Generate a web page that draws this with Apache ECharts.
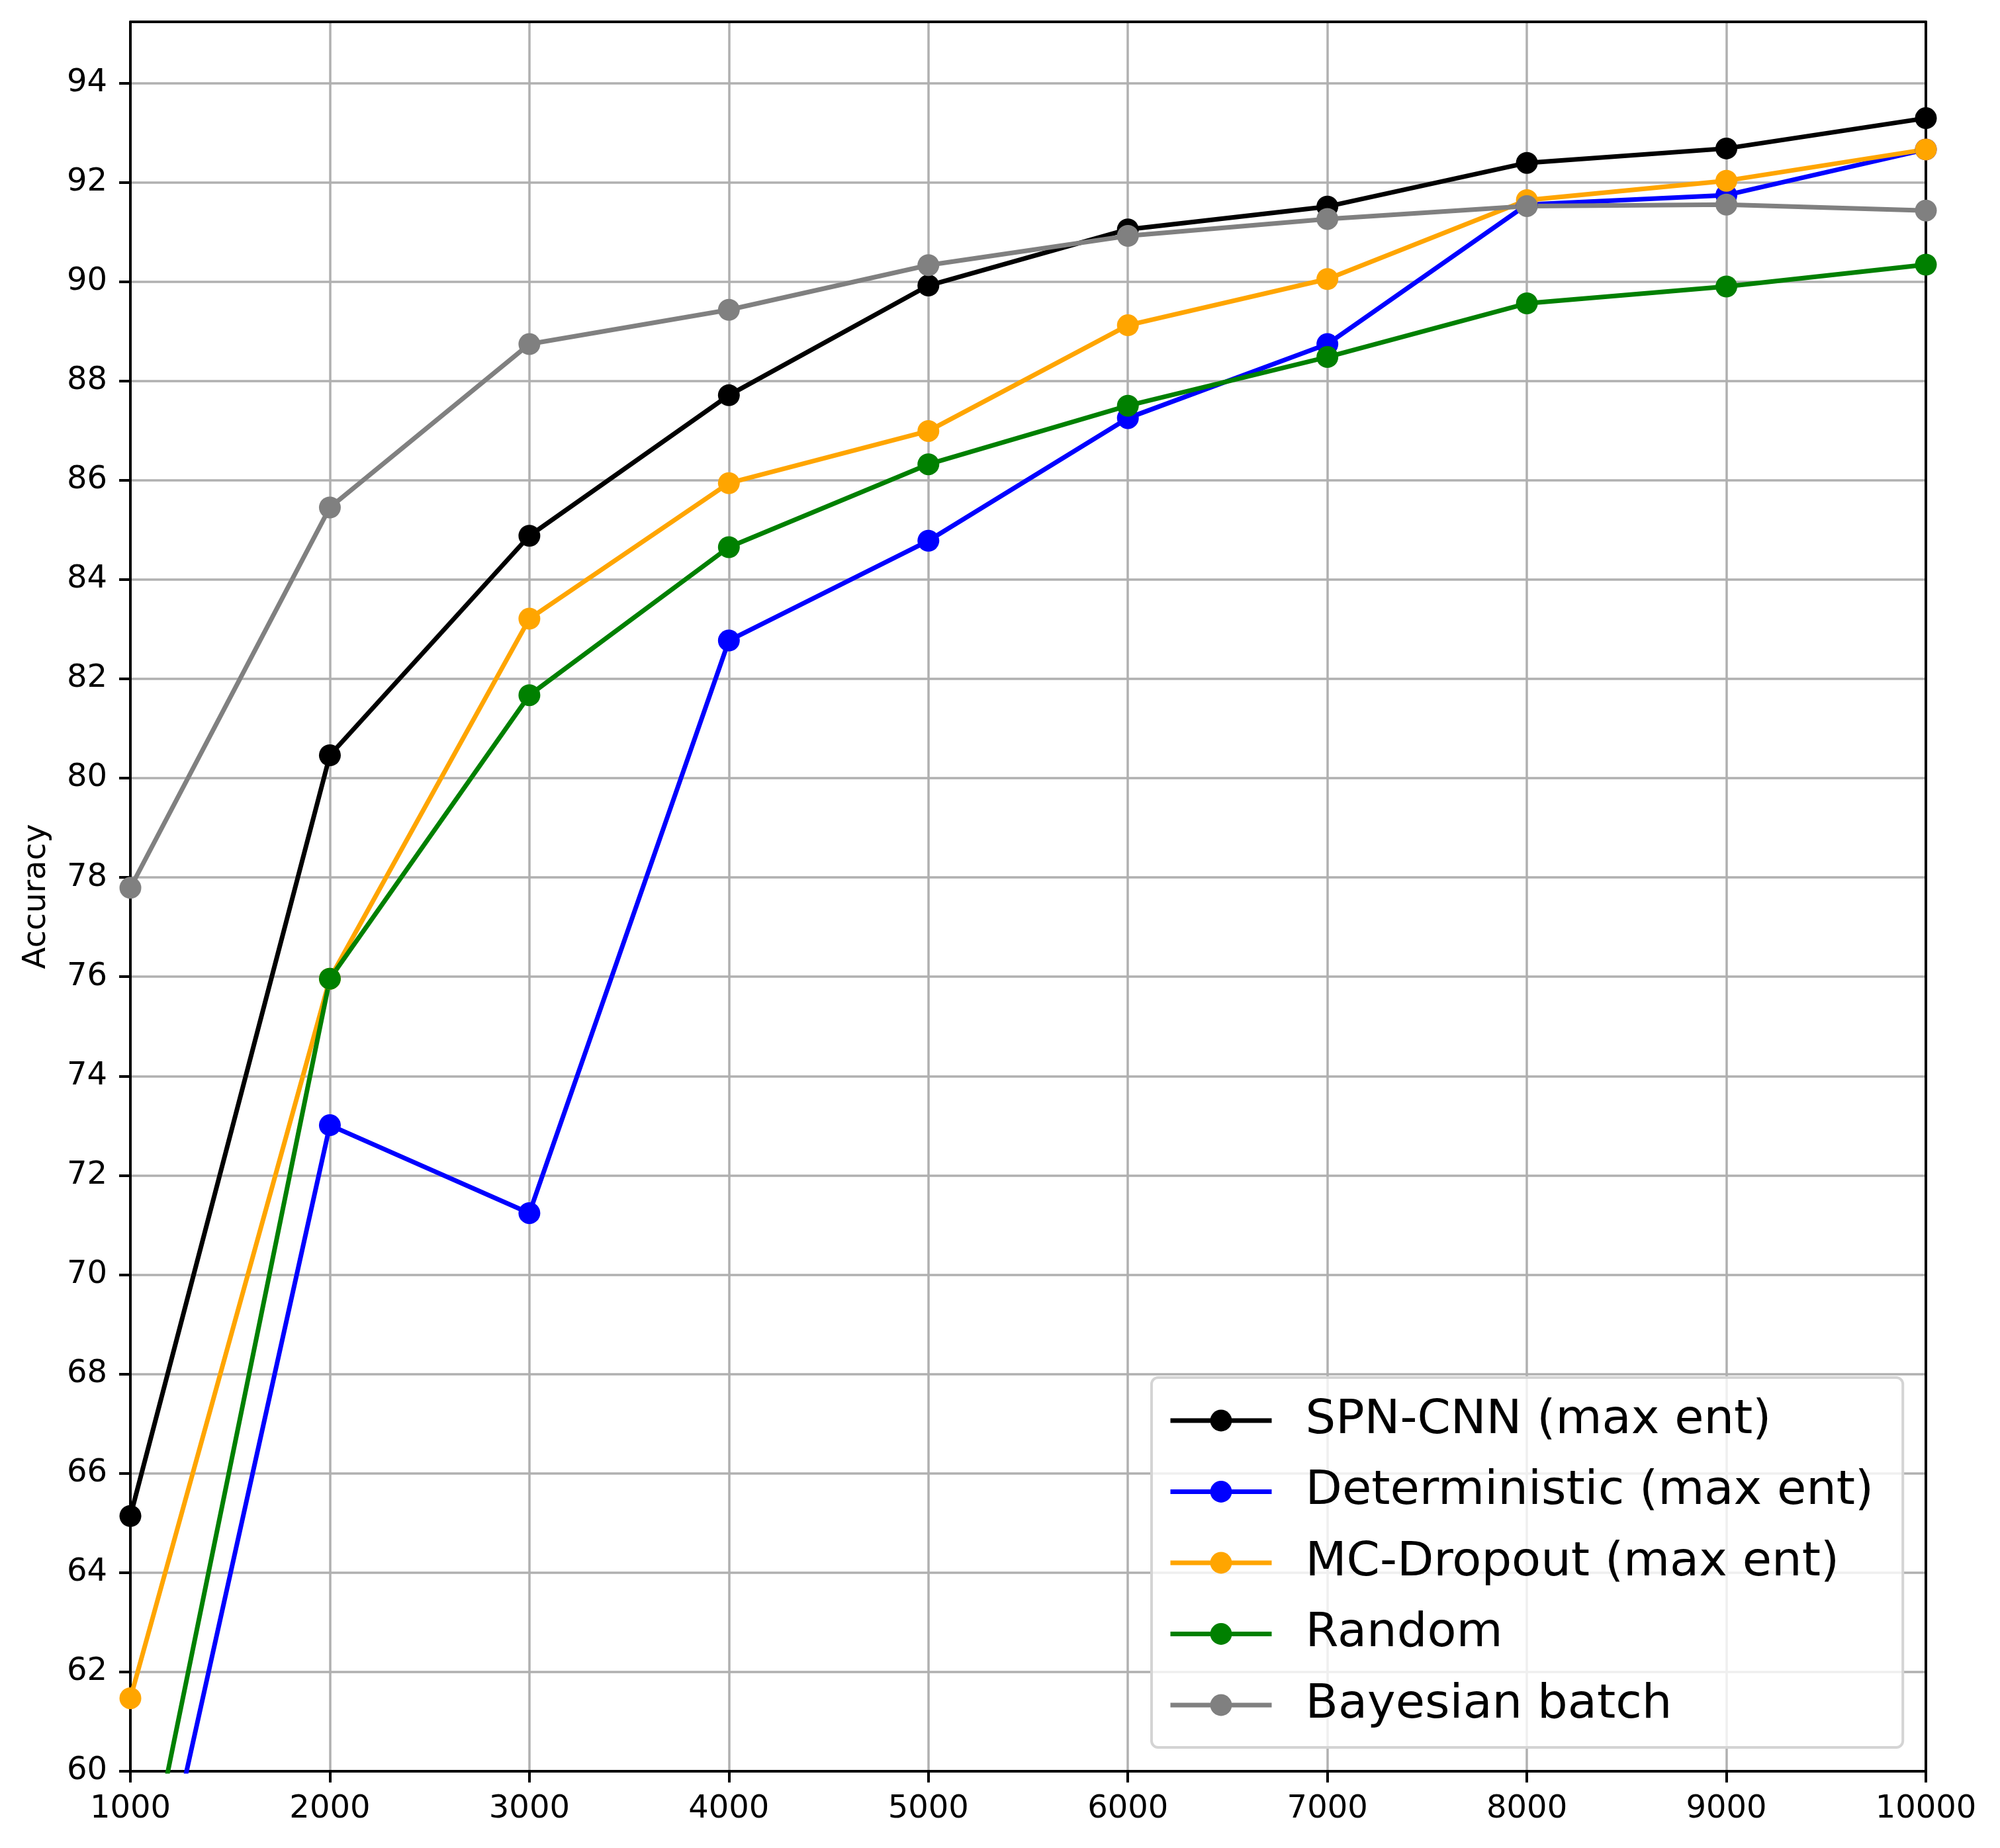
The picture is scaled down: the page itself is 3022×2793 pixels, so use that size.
<!DOCTYPE html>
<html>
<head>
<meta charset="utf-8">
<script src="https://cdn.jsdelivr.net/npm/echarts@6/dist/echarts.min.js"></script>
<style>html,body{margin:0;padding:0;background:#fff}#c{width:3022px;height:2793px}</style>
</head>
<body>
<div id="c"></div>
<script>
const xValues = [1000, 2000, 3000, 4000, 5000, 6000, 7000, 8000, 9000, 10000];
const spnCnn = [65.14, 80.46, 84.88, 87.71, 89.92, 91.05, 91.51, 92.39, 92.68, 93.29];
const deterministic = [54.9, 73.01, 71.24, 82.77, 84.78, 87.25, 88.74, 91.55, 91.74, 92.66];
const mcDropout = [61.47, 75.96, 83.21, 85.94, 86.99, 89.12, 90.05, 91.64, 92.03, 92.66];
const randomSel = [56.3, 75.96, 81.67, 84.65, 86.32, 87.50, 88.48, 89.56, 89.90, 90.34];
const bayesBatch = [77.79, 85.45, 88.74, 89.43, 90.33, 90.92, 91.26, 91.52, 91.55, 91.43];
const seriesNames = ['SPN-CNN (max ent)', 'Deterministic (max ent)', 'MC-Dropout (max ent)', 'Random', 'Bayesian batch'];
const seriesColors = ['#000000', '#0000ff', '#ffa500', '#008000', '#808080'];
const yTicks = [60, 62, 64, 66, 68, 70, 72, 74, 76, 78, 80, 82, 84, 86, 88, 90, 92, 94];
const xTicks = [1000, 2000, 3000, 4000, 5000, 6000, 7000, 8000, 9000, 10000];

const allData = [spnCnn, deterministic, mcDropout, randomSel, bayesBatch];
const font = 'DejaVu Sans';

const chart = echarts.init(document.getElementById('c'), null, {renderer: 'canvas'});
const series = allData.map((vals, i) => ({
  name: seriesNames[i],
  type: 'line',
  data: xValues.map((x, j) => [x, vals[j]]),
  symbol: 'circle',
  symbolSize: 33,
  showSymbol: true,
  clip: true,
  animation: false,
  lineStyle: {color: seriesColors[i], width: 7},
  itemStyle: {color: seriesColors[i]},
  emphasis: {disabled: true}
}));

chart.setOption({
  animation: false,
  backgroundColor: '#ffffff',
  grid: {left: 197, right: 112, top: 33, bottom: 116, containLabel: false},
  xAxis: [{
    type: 'value', min: 1000, max: 10000, interval: 1000,
    axisLine: {show: true, onZero: false, lineStyle: {color: '#000', width: 4}},
    axisTick: {show: true, length: 17, customValues: xTicks, lineStyle: {color: '#000', width: 4}},
    axisLabel: {show: true, margin: 34, fontFamily: font, fontSize: 48, color: '#000',
      customValues: xTicks, formatter: v => String(v)},
    splitLine: {show: true, lineStyle: {color: '#b0b0b0', width: 3.5}}
  }, {
    type: 'value', min: 1000, max: 10000, position: 'top',
    axisLine: {show: true, onZero: false, lineStyle: {color: '#000', width: 4}},
    axisTick: {show: false}, axisLabel: {show: false}, splitLine: {show: false}
  }],
  yAxis: [{
    type: 'value', min: 60, max: 95.23, interval: 2,
    name: 'Accuracy', nameLocation: 'middle', nameGap: 117, nameRotate: 90,
    nameTextStyle: {fontFamily: font, fontSize: 48, color: '#000'},
    axisLine: {show: true, onZero: false, lineStyle: {color: '#000', width: 4}},
    axisTick: {show: true, length: 17, customValues: yTicks, lineStyle: {color: '#000', width: 4}},
    axisLabel: {show: true, margin: 35, fontFamily: font, fontSize: 48, color: '#000', customValues: yTicks},
    splitLine: {show: true, lineStyle: {color: '#b0b0b0', width: 3.5}}
  }, {
    type: 'value', min: 60, max: 95.23, position: 'right',
    axisLine: {show: true, onZero: false, lineStyle: {color: '#000', width: 4}},
    axisTick: {show: false}, axisLabel: {show: false}, splitLine: {show: false}
  }],
  legend: {
    orient: 'vertical',
    left: 1740, top: 2082,
    padding: [29, 44, 28, 25],
    itemWidth: 153, itemHeight: 41, itemGap: 35.5,
    backgroundColor: 'rgba(255,255,255,0.8)',
    borderColor: '#d4d4d4', borderWidth: 4, borderRadius: 10,
    lineStyle: {width: 7},
    textStyle: {fontFamily: font, fontSize: 72, lineHeight: 72, color: '#000', padding: [0, 0, 0, 46]},
    data: seriesNames
  },
  series: series
});
</script>
</body>
</html>
